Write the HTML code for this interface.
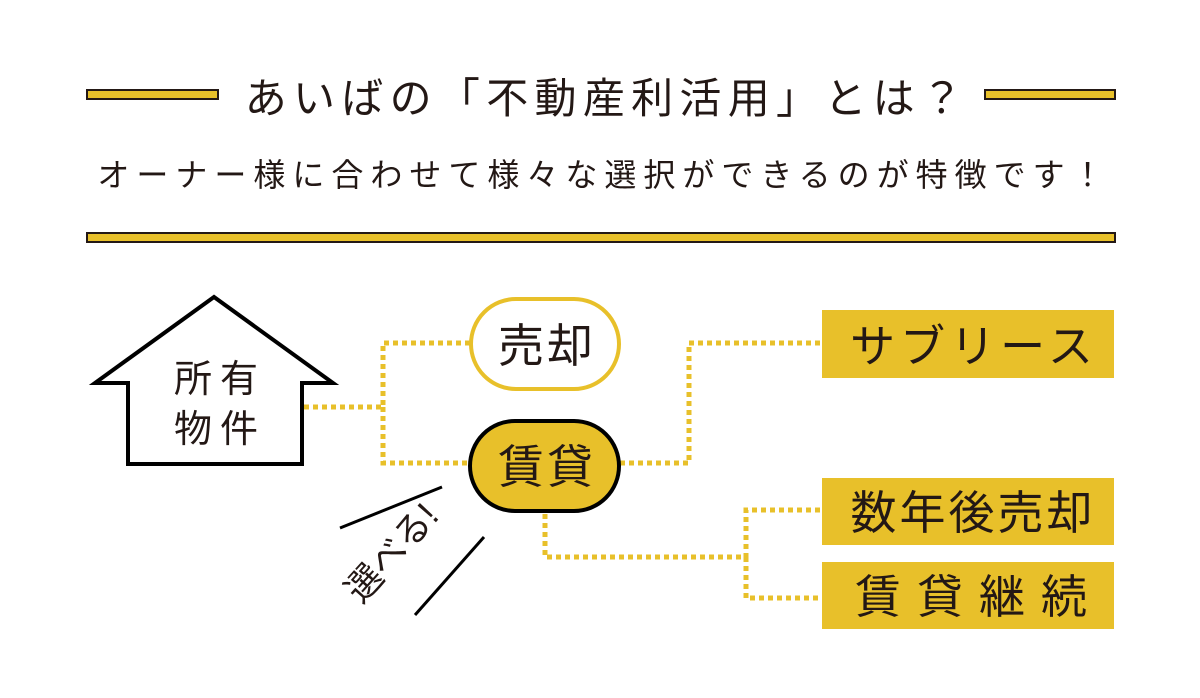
<!DOCTYPE html>
<html><head><meta charset="utf-8"><style>
html,body{margin:0;padding:0;background:#fff;}
svg{display:block;}
text{font-family:"Liberation Sans","Noto Sans CJK JP",sans-serif;fill:#231815;}
</style></head><body>
<svg width="1200" height="698" viewBox="0 0 1200 698" xmlns="http://www.w3.org/2000/svg">
<rect x="0" y="0" width="1200" height="698" fill="#fff"/>
<rect x="87" y="90" width="131" height="9" fill="#e8c02a" stroke="#231815" stroke-width="2"/>
<rect x="985" y="90" width="130" height="9" fill="#e8c02a" stroke="#231815" stroke-width="2"/>
<rect x="87" y="233" width="1028" height="9" fill="#e8c02a" stroke="#231815" stroke-width="2"/>
<text x="607" y="113" font-size="42" text-anchor="middle" letter-spacing="6.3">あいばの「不動産利活用」とは？</text>
<text x="604" y="186" font-size="32" text-anchor="middle" letter-spacing="7">オーナー様に合わせて様々な選択ができるのが特徴です！</text>
<g fill="none" stroke="#e8c02a" stroke-width="5" stroke-dasharray="5 4">
<path d="M304 407 H383 V343 H470"/>
<path d="M383 407 V463 H470"/>
<path d="M620 463 H689 V343 H822"/>
<path d="M545 514 V557 H746 V510 H822"/>
<path d="M746 557 V598 H822"/>
</g>
<path d="M214 297 L95 383 H128 V464 H302 V383 H333 Z" fill="#fff" stroke="#000" stroke-width="4"/>
<text x="220" y="392" font-size="38" text-anchor="middle" letter-spacing="8">所有</text>
<text x="220" y="442" font-size="38" text-anchor="middle" letter-spacing="8">物件</text>
<rect x="471" y="299" width="148" height="90" rx="45" fill="#fff" stroke="#e8c02a" stroke-width="4"/>
<text x="547" y="362" font-size="46" text-anchor="middle" letter-spacing="3">売却</text>
<rect x="470" y="421" width="149" height="90" rx="45" fill="#e8c02a" stroke="#000" stroke-width="4"/>
<text x="547" y="483" font-size="46" text-anchor="middle" letter-spacing="3">賃貸</text>
<rect x="822" y="310" width="292" height="68" fill="#e8c02a"/>
<text x="974" y="362" font-size="45" text-anchor="middle" letter-spacing="5">サブリース</text>
<rect x="822" y="478" width="292" height="67" fill="#e8c02a"/>
<text x="973" y="529" font-size="46" text-anchor="middle" letter-spacing="3">数年後売却</text>
<rect x="822" y="562" width="292" height="67" fill="#e8c02a"/>
<text x="979" y="613" font-size="46" text-anchor="middle" letter-spacing="16">賃貸継続</text>
<line x1="340" y1="528" x2="442" y2="487" stroke="#000" stroke-width="3"/>
<line x1="415" y1="615" x2="484" y2="537" stroke="#000" stroke-width="3"/>
<text x="0" y="12" font-size="36" text-anchor="middle" transform="translate(392,553) rotate(-48)">選べる!</text>
</svg>
</body></html>
